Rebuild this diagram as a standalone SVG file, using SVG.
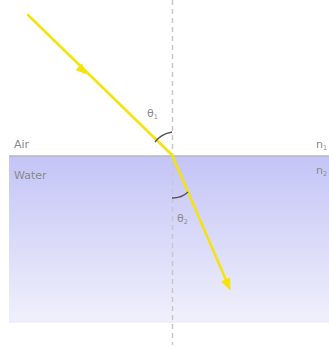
<svg xmlns="http://www.w3.org/2000/svg" width="329" height="347" viewBox="0 0 329 347">
<defs>
<linearGradient id="wg" x1="0" y1="0" x2="0" y2="1">
<stop offset="0" stop-color="#c4c4f7"/>
<stop offset="1" stop-color="#f0f0fc"/>
</linearGradient>
<style>
.lbl{font-family:"DejaVu Sans",sans-serif;font-size:11px;fill:#8a8a8a}
.sub{font-size:6.5px}
.ray{stroke:#f4e40a;stroke-width:2.5;fill:none;stroke-linecap:round}
.head{fill:#f4e40a;stroke:#f4e40a;stroke-width:0.8;stroke-linejoin:round}
.arc{stroke:#555;stroke-width:1.3;fill:none}
</style>
</defs>
<rect width="329" height="347" fill="#fff"/>
<g id="water"><rect x="9" y="156" width="320" height="167" fill="url(#wg)"/></g>
<g id="interface"><line x1="9" y1="156" x2="329" y2="156" stroke="#b9b9b9" stroke-width="1.5"/></g>
<g id="normal"><line x1="172.5" y1="0" x2="172.5" y2="345" stroke="#c8c8c8" stroke-width="1.5" stroke-dasharray="5,4"/></g>
<g id="connectors">
<path class="ray" d="M28,15 L172,155"/>
<polygon class="head" points="86,74 76.2,69.9 81.8,64.1"/>
<path class="ray" d="M172,155 L226,280"/>
<polygon class="head" points="230,290 221.6,281.6 229.8,278.1"/>
<path d="M155,142 Q161,134 172,132" class="arc"/>
<path d="M172,198 Q182,198 188,192" class="arc"/>
</g>
<g id="labels">
<text class="lbl" x="14" y="148">Air</text>
<text class="lbl" x="14" y="179">Water</text>
<text class="lbl" x="316" y="148">n<tspan class="sub" dy="2">1</tspan></text>
<text class="lbl" x="316" y="174">n<tspan class="sub" dy="2">2</tspan></text>
<text class="lbl" x="147" y="117">θ<tspan class="sub" dy="2">1</tspan></text>
<text class="lbl" x="177" y="222">θ<tspan class="sub" dy="2">2</tspan></text>
</g>
</svg>
